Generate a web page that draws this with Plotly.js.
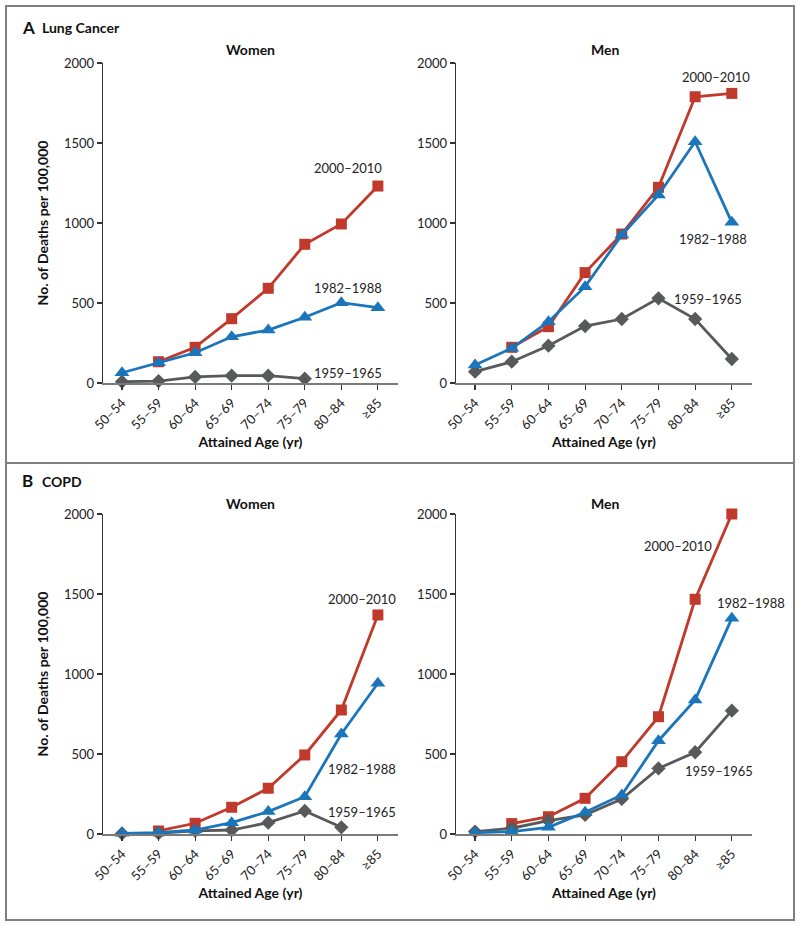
<!DOCTYPE html>
<html>
<head>
<meta charset="utf-8">
<script src="https://cdn.plot.ly/plotly-3.0.1.min.js"></script>
<style>html,body{margin:0;padding:0;background:#fff;}#chart{width:800px;height:926px;}</style>
</head>
<body>
<div id="chart"></div>
<script>
const ages = ["50–54","55–59","60–64","65–69","70–74","75–79","80–84","≥85"];
const periods = ["2000–2010","1982–1988","1959–1965"];
const yTicks = [0,500,1000,1500,2000];

// Lung cancer, women
const lungWomen2000 = [null,133,223,402,592,867,994,1231];
const lungWomen1982 = [64,127,189,289,331,411,502,471];
const lungWomen1959 = [8,12,38,46,46,27,null,null];
// Lung cancer, men
const lungMen2000 = [null,223,352,690,931,1223,1789,1810];
const lungMen1982 = [112,217,383,602,925,1175,1508,1004];
const lungMen1959 = [71,133,233,356,400,529,400,150];
// COPD, women
const copdWomen2000 = [null,19,67,167,286,494,775,1369];
const copdWomen1982 = [4,8,25,71,140,233,625,942];
const copdWomen1959 = [3,5,20,25,71,144,42,null];
// COPD, men
const copdMen2000 = [null,65,108,223,452,733,1467,2000];
const copdMen1982 = [8,15,42,136,244,583,838,1348];
const copdMen1959 = [15,36,83,119,219,410,511,771];

const RED = "#c0392a", BLUE = "#1b75bb", GRAY = "#58595b";
const FONT = "Lato, 'Open Sans', sans-serif";
const W = 800, H = 926;
const px = v => v / W, py = v => 1 - v / H;

function series(vals, name, color, symbol, size, ax) {
  return {
    type: "scatter", mode: "lines+markers", x: ages, y: vals, name: name,
    xaxis: "x" + ax, yaxis: "y" + ax, cliponaxis: false, showlegend: false,
    connectgaps: false,
    line: {color: color, width: 2.8},
    marker: {color: color, symbol: symbol, size: size}
  };
}
function panel(a, b, c, ax) {
  return [
    series(a, periods[0], RED, "square", 11, ax),
    series(c, periods[2], GRAY, "diamond", 11, ax),
    series(b, periods[1], BLUE, "triangle-up", 13, ax)
  ];
}
const data = [].concat(
  panel(lungWomen2000, lungWomen1982, lungWomen1959, ""),
  panel(lungMen2000, lungMen1982, lungMen1959, "2"),
  panel(copdWomen2000, copdWomen1982, copdWomen1959, "3"),
  panel(copdMen2000, copdMen1982, copdMen1959, "4")
);

const xr = [-0.52, 7.55];
function xaxis(dom, anchor) {
  return {
    domain: dom, anchor: anchor, type: "category", range: xr,
    showline: true, linecolor: "#7a7a7a", linewidth: 2.2,
    ticks: "outside", ticklen: 5, tickcolor: "#333", tickwidth: 1.2,
    tickangle: -45, showgrid: false, zeroline: false,
    tickfont: {family: FONT, size: 13, color: "#222"},
    title: {text: "<b>Attained Age (yr)</b>", font: {family: FONT, size: 14, color: "#111"}, standoff: 6}
  };
}
function yaxis(dom, anchor, withTitle) {
  const o = {
    domain: dom, anchor: anchor, range: [0, 2000], tickvals: yTicks,
    showline: true, linecolor: "#333", linewidth: 1.3,
    ticks: "outside", ticklen: 5, tickcolor: "#333", tickwidth: 1.2,
    showgrid: false, zeroline: false,
    tickfont: {family: FONT, size: 13, color: "#222"}
  };
  if (withTitle) o.title = {text: "<b>No. of Deaths per 100,000</b>", font: {family: FONT, size: 14, color: "#111"}, standoff: 12};
  return o;
}
const xWomen = [px(103), px(398)], xMen = [px(456), px(752)];
const yA = [py(383), py(63)], yB = [py(834), py(514)];

const layout = {
  width: W, height: H, margin: {l: 0, r: 0, t: 0, b: 0},
  paper_bgcolor: "#fff", plot_bgcolor: "#fff", showlegend: false,
  font: {family: FONT, color: "#222"},
  xaxis: xaxis(xWomen, "y"), yaxis: yaxis(yA, "x", true),
  xaxis2: xaxis(xMen, "y2"), yaxis2: yaxis(yA, "x2", false),
  xaxis3: xaxis(xWomen, "y3"), yaxis3: yaxis(yB, "x3", true),
  xaxis4: xaxis(xMen, "y4"), yaxis4: yaxis(yB, "x4", false),
  shapes: [
    {type: "rect", xref: "paper", yref: "paper", x0: px(6), x1: px(794), y0: py(920), y1: py(6), line: {color: "#808080", width: 2}},
    {type: "line", xref: "paper", yref: "paper", x0: px(6), x1: px(794), y0: py(463), y1: py(463), line: {color: "#808080", width: 2}}
  ],
  annotations: []
};
const ann = layout.annotations;
function ptxt(text, x, y, size, anchor) {
  ann.push({text: text, xref: "paper", yref: "paper", x: px(x), y: py(y), showarrow: false,
    xanchor: anchor || "center", yanchor: "middle", font: {family: FONT, size: size, color: "#111"}});
}
ptxt("<b>A</b>", 20, 27, 17, "left");
ptxt("<b>Lung Cancer</b>", 40, 28, 14, "left");
ptxt("<b>B</b>", 20, 480, 17, "left");
ptxt("<b>COPD</b>", 40, 481, 14, "left");
ptxt("<b>Women</b>", 251, 50, 14);
ptxt("<b>Men</b>", 605, 50, 14);
ptxt("<b>Women</b>", 251, 503, 14);
ptxt("<b>Men</b>", 605, 503, 14);

function dlab(text, ax, xi, yv) {
  ann.push({text: text, xref: "x" + ax, yref: "y" + ax, x: xi, y: yv, showarrow: false,
    xanchor: "center", yanchor: "middle", font: {family: FONT, size: 13, color: "#222"}});
}
dlab(periods[0], "", 6.18, 1344);
dlab(periods[1], "", 6.18, 594);
dlab(periods[2], "", 6.18, 62);
dlab(periods[0], "2", 6.56, 1912);
dlab(periods[1], "2", 6.48, 900);
dlab(periods[2], "2", 6.34, 525);
dlab(periods[0], "3", 6.56, 1469);
dlab(periods[1], "3", 6.56, 406);
dlab(periods[2], "3", 6.56, 137);
dlab(periods[0], "4", 5.52, 1800);
dlab(periods[1], "4", 7.52, 1444);
dlab(periods[2], "4", 6.64, 394);

Plotly.newPlot("chart", data, layout, {displayModeBar: false, staticPlot: true});
</script>
</body>
</html>
